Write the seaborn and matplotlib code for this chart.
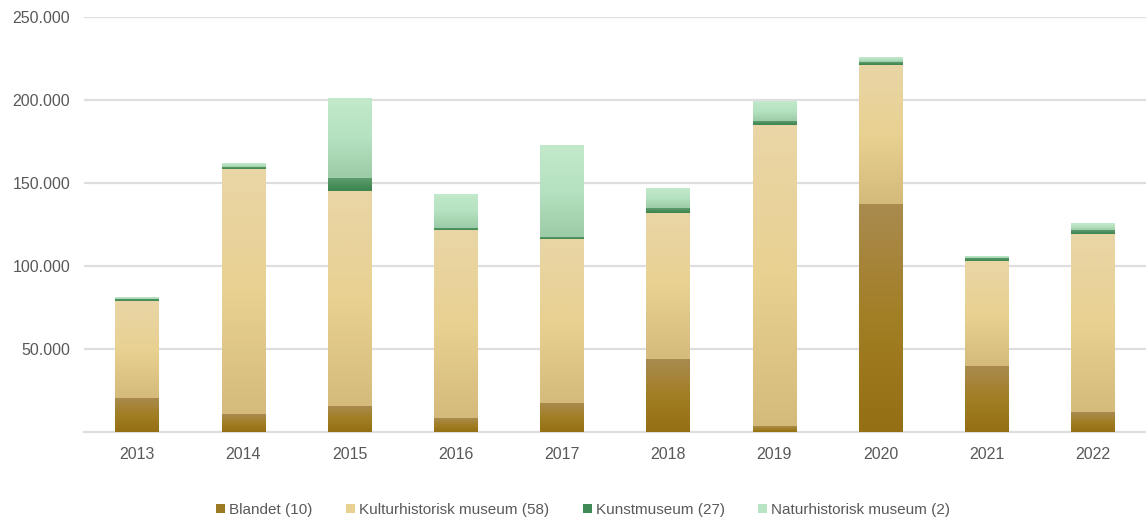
import numpy as np
import pandas as pd
import matplotlib
matplotlib.use("Agg")
import matplotlib.pyplot as plt
from matplotlib.colors import LinearSegmentedColormap
from matplotlib.patches import Patch
import seaborn as sns

years = ["2013", "2014", "2015", "2016", "2017", "2018", "2019", "2020", "2021", "2022"]
blandet = [20500, 10800, 15700, 8400, 17500, 43900, 3600, 137300, 39800, 12000]
kultur = [58400, 147600, 129500, 113300, 98800, 88000, 181300, 83800, 63200, 107300]
kunst = [1200, 1200, 7800, 1200, 1200, 3000, 2400, 1800, 1800, 2400]
natur = [1200, 2400, 47600, 19900, 55400, 11500, 11500, 3000, 1200, 4200]

series = ["Blandet (10)", "Kulturhistorisk museum (58)", "Kunstmuseum (27)", "Naturhistorisk museum (2)"]
values = [blandet, kultur, kunst, natur]
# gradient stops, top -> bottom
grads = [
    ["#aa8b50", "#a27e24", "#946f14"],
    ["#e9d6a6", "#e9d192", "#d4bb7c"],
    ["#5e9d6e", "#4a8f5c", "#3b844f"],
    ["#c2e9cb", "#b5e2c0", "#9ccba7"],
]
legend_cols = ["#9c7a22", "#e9d192", "#3f8a55", "#b8e4c3"]

sns.set_style("white")
plt.rcParams["font.family"] = ["Liberation Sans", "DejaVu Sans"]

fig = plt.figure(figsize=(11.46, 5.2), dpi=100)
ax = fig.add_axes([84 / 1146, 88 / 520, 1 - 84 / 1146, 415 / 520])

df = pd.DataFrame({"year": years})
bottom = np.zeros(len(years))
for name, vals, g in zip(series, values, grads):
    n0 = len(ax.patches)
    sns.barplot(x=df["year"], y=vals, bottom=bottom, color=g[1], width=0.41,
                ax=ax, linewidth=0, saturation=1, zorder=2)
    cmap = LinearSegmentedColormap.from_list(name, g[::-1])
    grad = np.linspace(1, 0, 256).reshape(-1, 1)
    for p in ax.patches[n0:]:
        x, y = p.get_x(), p.get_y()
        w, h = p.get_width(), p.get_height()
        if h <= 0:
            continue
        ax.imshow(grad, cmap=cmap, extent=[x, x + w, y, y + h], aspect="auto",
                  interpolation="bicubic", zorder=3, vmin=0, vmax=1)
    bottom = bottom + np.array(vals)

ax.set_xlim(-0.5, len(years) - 0.5)
ax.set_ylim(0, 250000)
ax.set_yticks([50000, 100000, 150000, 200000, 250000])
ax.set_yticklabels([f"{v:,}".replace(",", ".") for v in [50000, 100000, 150000, 200000, 250000]])
ax.set_xlabel("")
ax.set_ylabel("")
ax.yaxis.grid(True, color="#dedede", linewidth=1.6, zorder=0)
ax.set_axisbelow(True)
for s in ["top", "right", "left"]:
    ax.spines[s].set_visible(False)
ax.spines["bottom"].set_color("#dedede")
ax.spines["bottom"].set_linewidth(1.6)
ax.tick_params(axis="both", length=0, labelsize=11.5, labelcolor="#595959")
ax.tick_params(axis="y", pad=10)
ax.tick_params(axis="x", pad=11)

handles = [Patch(facecolor=c, edgecolor="none") for c in legend_cols]
fig.legend(handles, series, loc="center", bbox_to_anchor=(583 / 1146, 10 / 520),
           ncol=4, frameon=False, handlelength=0.6, handleheight=0.6,
           handletextpad=0.25, columnspacing=2.2,
           prop={"family": ["Liberation Sans Narrow", "Liberation Sans", "DejaVu Sans"], "size": 11},
           labelcolor="#595959")

fig.savefig("out.png", dpi=100)
